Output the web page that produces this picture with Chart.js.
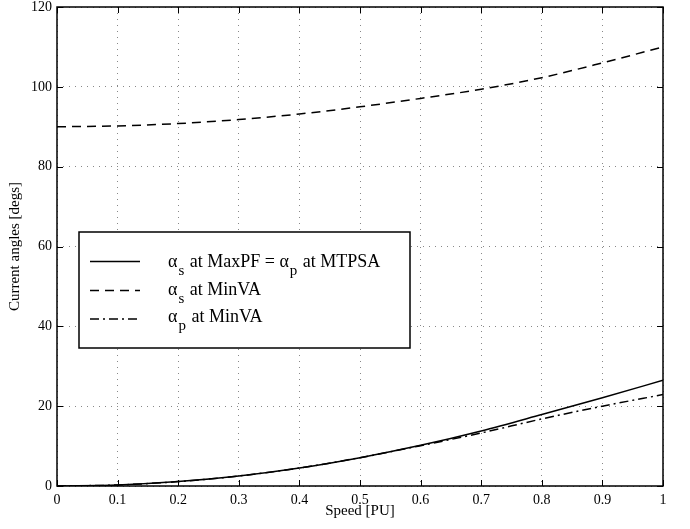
<!DOCTYPE html>
<html>
<head>
<meta charset="utf-8">
<script src="https://cdn.jsdelivr.net/npm/chart.js@4/dist/chart.umd.min.js"></script>
<style>
  html, body { margin: 0; padding: 0; background: #fff; }
  #wrap { width: 690px; height: 529px; position: relative; }
</style>
</head>
<body>
<div id="wrap"><canvas id="angleChart"></canvas></div>
<script>
// values
const speed = [0, 0.1, 0.2, 0.3, 0.4, 0.5, 0.6, 0.7, 0.8, 0.9, 1.0];
const alphaSMaxPF = [0, 0.25, 1.1, 2.5, 4.5, 7.1, 10.2, 13.8, 17.9, 22.1, 26.5];
const alphaSMinVA = [90, 90.2, 90.8, 91.8, 93.2, 95.0, 97.1, 99.4, 102.3, 106.0, 110.0];
const alphaPMinVA = [0, 0.25, 1.1, 2.5, 4.5, 7.1, 10.1, 13.3, 16.8, 20.0, 22.9];

const xTicks = [0, 0.1, 0.2, 0.3, 0.4, 0.5, 0.6, 0.7, 0.8, 0.9, 1];
const yTicks = [0, 20, 40, 60, 80, 100, 120];

// legend entries: [main symbol, subscript, rest of text, ...]
const legendParts = [
    [['\u03b1', 's'], [' at MaxPF = \u03b1', 'p'], [' at MTPSA', '']],
    [['\u03b1', 's'], [' at MinVA', '']],
    [['\u03b1', 'p'], [' at MinVA', '']]
];

const serif = '"Liberation Serif", "DejaVu Serif", serif';

function toPoints(ys) {
    return speed.map((x, i) => ({ x: x, y: ys[i] }));
}

const dashes = [[], [9, 6], [9, 4, 2, 4]];

// frame, inward ticks and boxed legend (MATLAB style)
const framePlugin = {
    id: 'frame',
    afterDraw(chart) {
        const ctx = chart.ctx;
        const a = chart.chartArea;
        const xs = chart.scales.x, ys = chart.scales.y;
        ctx.save();
        ctx.strokeStyle = '#000';
        ctx.lineWidth = 1.5;
        ctx.setLineDash([]);
        ctx.strokeRect(a.left, a.top, a.right - a.left, a.bottom - a.top);

        ctx.lineWidth = 1;
        ctx.beginPath();
        xTicks.forEach(v => {
            const px = Math.round(xs.getPixelForValue(v)) + 0.5;
            ctx.moveTo(px, a.bottom); ctx.lineTo(px, a.bottom - 6);
            ctx.moveTo(px, a.top); ctx.lineTo(px, a.top + 6);
        });
        yTicks.forEach(v => {
            const py = Math.round(ys.getPixelForValue(v)) + 0.5;
            ctx.moveTo(a.left, py); ctx.lineTo(a.left + 6, py);
            ctx.moveTo(a.right, py); ctx.lineTo(a.right - 6, py);
        });
        ctx.stroke();

        // legend box
        const bx = a.left + 22, by = a.top + 225, bw = 331, bh = 116;
        ctx.fillStyle = '#fff';
        ctx.fillRect(bx, by, bw, bh);
        ctx.lineWidth = 1.5;
        ctx.strokeRect(bx, by, bw, bh);

        const baselines = [267, 295, 322];
        const lineYs = [261.5, 290.5, 319];
        ctx.textBaseline = 'alphabetic';
        ctx.textAlign = 'left';
        legendParts.forEach((parts, i) => {
            const ds = chart.data.datasets[i];
            ctx.strokeStyle = ds.borderColor;
            ctx.lineWidth = ds.borderWidth;
            ctx.setLineDash(ds.borderDash || []);
            ctx.beginPath();
            ctx.moveTo(90, lineYs[i]);
            ctx.lineTo(140, lineYs[i]);
            ctx.stroke();
            ctx.setLineDash([]);

            ctx.fillStyle = '#000';
            let x = 168;
            parts.forEach(([main, sub]) => {
                ctx.font = '18px ' + serif;
                ctx.fillText(main, x, baselines[i]);
                x += ctx.measureText(main).width;
                if (sub) {
                    ctx.font = '15px ' + serif;
                    ctx.fillText(sub, x + 1, baselines[i] + 8);
                    x += ctx.measureText(sub).width + 2;
                }
            });
        });
        ctx.restore();
    }
};

const ctx = document.getElementById('angleChart').getContext('2d');
new Chart(ctx, {
    type: 'line',
    data: {
        datasets: [
            { label: '\u03b1s at MaxPF = \u03b1p at MTPSA', data: toPoints(alphaSMaxPF), borderDash: dashes[0] },
            { label: '\u03b1s at MinVA', data: toPoints(alphaSMinVA), borderDash: dashes[1] },
            { label: '\u03b1p at MinVA', data: toPoints(alphaPMinVA), borderDash: dashes[2] }
        ].map(d => Object.assign(d, {
            borderColor: '#000',
            borderWidth: 1.5,
            pointRadius: 0,
            fill: false,
            cubicInterpolationMode: 'monotone'
        }))
    },
    options: {
        responsive: true,
        maintainAspectRatio: false,
        animation: false,
        layout: { padding: { top: 7, right: 27, left: 0, bottom: 0 } },
        plugins: {
            legend: { display: false },
            tooltip: { enabled: false }
        },
        scales: {
            x: {
                type: 'linear',
                min: 0,
                max: 1,
                afterBuildTicks: s => { s.ticks = xTicks.map(v => ({ value: v })); },
                afterFit: s => { s.height = 43; },
                grid: { color: '#888', lineWidth: 1, drawTicks: false },
                border: { display: false, dash: [1, 5] },
                ticks: {
                    padding: 6,
                    color: '#000',
                    font: { family: serif, size: 14 },
                    callback: v => String(Number(v.toFixed(1)))
                },
                title: {
                    display: true,
                    text: 'Speed [PU]',
                    color: '#000',
                    font: { family: serif, size: 15 },
                    padding: { top: 0, bottom: 9 }
                }
            },
            y: {
                type: 'linear',
                min: 0,
                max: 120,
                afterBuildTicks: s => { s.ticks = yTicks.map(v => ({ value: v })); },
                afterFit: s => { s.width = 57; s.paddingTop = 0; },
                grid: { color: '#888', lineWidth: 1, drawTicks: false },
                border: { display: false, dash: [1, 5] },
                ticks: {
                    padding: 5,
                    color: '#000',
                    font: { family: serif, size: 14 }
                },
                title: {
                    display: true,
                    text: 'Current angles [degs]',
                    color: '#000',
                    font: { family: serif, size: 15 },
                    padding: { top: 6, bottom: 0 }
                }
            }
        }
    },
    plugins: [framePlugin]
});
</script>
</body>
</html>
